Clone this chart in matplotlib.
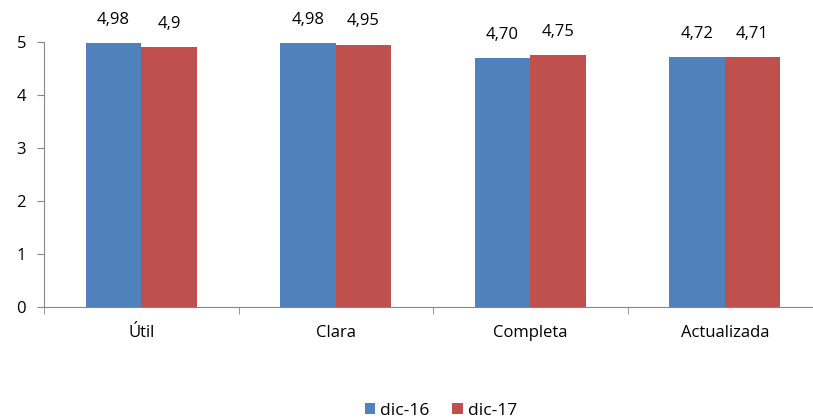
import matplotlib.pyplot as plt
import numpy as np

categories = ['Útil', 'Clara', 'Completa', 'Actualizada']
dic16 = [4.98, 4.98, 4.70, 4.72]
dic17 = [4.90, 4.95, 4.75, 4.71]
labels16 = ['4,98', '4,98', '4,70', '4,72']
labels17 = ['4,9', '4,95', '4,75', '4,71']

plt.rcParams['font.family'] = ['Open Sans', 'DejaVu Sans']

fig = plt.figure(figsize=(8.13, 4.19), dpi=100)
ax = fig.add_axes([44 / 813, 112 / 419, 778 / 813, 265 / 419])

x = np.arange(len(categories))
w = 0.285
blue = '#4F81BD'
red = '#C0504D'
b1 = ax.bar(x - w / 2, dic16, w, color=blue, label='dic-16')
b2 = ax.bar(x + w / 2, dic17, w, color=red, label='dic-17')

for bars, labs in ((b1, labels16), (b2, labels17)):
    for bar, lab in zip(bars, labs):
        ax.annotate(lab, (bar.get_x() + bar.get_width() / 2, bar.get_height()),
                    xytext=(0, 11), textcoords='offset points', ha='center',
                    va='bottom', fontsize=12, annotation_clip=False)

ax.set_xlim(-0.5, len(categories) - 0.5)
ax.set_ylim(0, 5)
ax.set_yticks(range(6))
ax.set_xticks(x)
ax.set_xticklabels(categories, fontsize=12)
ax.set_xticks(np.arange(len(categories) + 1) - 0.5, minor=True)
ax.tick_params(axis='x', which='major', length=0, pad=13)
ax.tick_params(axis='x', which='minor', length=5, color='#868686')
ax.tick_params(axis='y', length=5, color='#868686', labelsize=12, pad=8)

for s in ['top', 'right']:
    ax.spines[s].set_visible(False)
for s in ['left', 'bottom']:
    ax.spines[s].set_color('#868686')

fig.legend(handles=[b1, b2], loc='center', bbox_to_anchor=(441 / 813, 1 - 411 / 419),
           ncol=2, frameon=False, fontsize=12.5, handlelength=0.6, handleheight=0.6,
           handletextpad=0.3, columnspacing=1.3)

fig.savefig('out.png', dpi=100)
